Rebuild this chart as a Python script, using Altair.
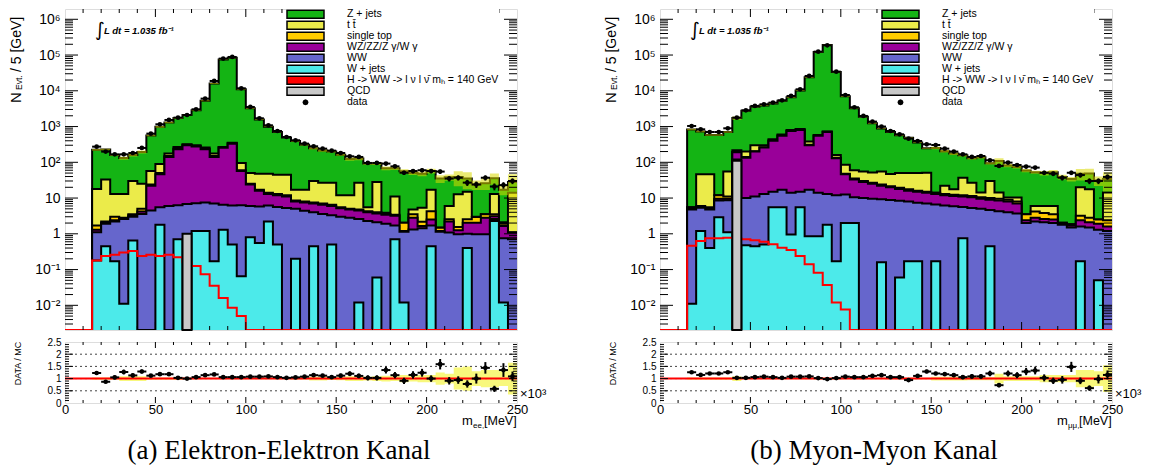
import math
import altair as alt
import pandas as pd

# ------------------------------------------------------------------ data
# 47 bins of 5 GeV (x10^3 MeV): 15-20 ... 245-250; bins below 15 are empty
BIN_LOW = list(range(15, 250, 5))

LEGEND_LABELS = ["Z + jets", "t t\u0304", "single top", "WZ/ZZ/Z \u03b3/W \u03b3", "WW", "W + jets",
                 "H -> WW -> l \u03bd l \u03bd\u0304 m\u2095 = 140 GeV", "QCD", "data"]

# ---- (a) electron-electron channel: cumulative stack tops ----
ee_data = [274, 199, 167, 167, 182, 252, 634, 1157, 1529, 1776, 2108, 3040, 6040, 18840, 79430, 88350, 11750,
           3530, 1703, 1084, 752, 511, 413, 333, 280, 241, 212, 182, 147, 141, 96, 96, 92, 77, 51, 57, 60, 57,
           55, 35, 37, 27, 24, 37, 21, 23, 30]
ee_zjets = [223, 229, 159, 131, 161, 195, 566, 980, 1296, 1724, 2108, 2868, 5298, 16100, 74930, 83350, 11085,
            3269, 1577, 994, 709, 496, 393, 308, 246, 215, 200, 163, 123, 127, 93, 93, 68, 68, 56, 50, 48, 57,
            35, 38, 39, 35, 24, 26, 36, 17, 28]
ee_ttbar = [18, 33, 13, 13, 30, 25, 57, 90, 175, 270, 320, 300, 260, 175, 270, 350, 95,
            50, 48, 48, 45, 45, 17, 17, 30, 27, 27, 12, 12, 27, 5.5, 28, 3.9, 11, 2.05, 4.8, 5.4, 17,
            1.5, 6.0, 12.7, 15, 3.0, 3.5, 13, 2.1, 14]
ee_stop = [1.7, 2.2, 3.0, 2.6, 3.5, 5.0, 24, 50, 150, 245, 310, 285, 240, 150, 262, 340, 60,
           25, 17, 14, 13, 12, 8.5, 8.0, 7.5, 7.0, 6.5, 5.5, 5.0, 4.8, 4.3, 4.0, 3.6, 3.4, 2.05, 3.5, 2.18, 4.3,
           1.48, 2.54, 1.55, 2.54, 2.95, 3.5, 3.5, 1.9, 1.1]
ee_dibos = [1.3, 2.05, 2.4, 2.8, 3.3, 4.2, 22, 46, 140, 230, 300, 275, 230, 140, 255, 330, 57,
            24, 16, 13, 12, 11, 8.0, 7.5, 7.0, 6.5, 6.0, 5.2, 4.8, 4.5, 4.0, 3.7, 3.4, 3.2, 1.2, 2.8, 1.65, 2.5,
            1.2, 2.2, 1.25, 2.05, 2.05, 2.8, 3.1, 1.65, 1.08]
ee_ww = [1.1, 1.9, 2.2, 2.6, 3.0, 3.6, 4.5, 5.5, 6.0, 6.3, 6.8, 7.2, 7.5, 7.0, 6.5, 6.2, 6.3,
         6.0, 5.8, 6.2, 5.6, 5.3, 5.0, 4.4, 4.0, 3.6, 3.3, 3.0, 2.8, 2.6, 2.3, 2.1, 1.9, 1.7, 1.15, 1.33, 1.42, 1.7,
         1.15, 1.08, 0.97, 1.01, 0.97, 0.97, 2.6, 0.75, 0.70]
ee_wjets = [0.18, 0.45, 0.17, 0.011, 0.65, 0, 0, 1.8, 0, 0.7, 0, 1.2, 1.2, 0.17, 1.3, 0.5, 0.065,
            0.8, 0.55, 2.2, 0.5, 0, 0.2, 0, 0.45, 0, 0.5, 0, 0, 0.012, 0, 0.06, 0, 0.7, 0.012, 0, 0, 0.45,
            0, 0, 0, 0.4, 0, 0, 2.3, 0.012, 0]
ee_qcd = [0, 0, 0, 0, 0, 0, 0, 0, 0, 0, 1.0, 0, 0, 0, 0, 0, 0,
          0, 0, 0, 0, 0, 0, 0, 0, 0, 0, 0, 0, 0, 0, 0, 0, 0, 0, 0, 0, 0,
          0, 0, 0, 0, 0, 0, 0, 0, 0]
ee_higgs = [0.18, 0.24, 0.26, 0.30, 0.33, 0.24, 0.26, 0.24, 0.26, 0.22, 0.16, 0.126, 0.074, 0.035, 0.016, 0.0086, 0.005,
            0, 0, 0, 0, 0, 0, 0, 0, 0, 0, 0, 0, 0, 0, 0, 0, 0, 0, 0, 0, 0,
            0, 0, 0, 0, 0, 0, 0, 0, 0]
ee_ratio = [1.23, 0.87, 1.05, 1.27, 1.13, 1.29, 1.12, 1.18, 1.18, 1.03, 1.00, 1.06, 1.14, 1.17, 1.06, 1.06, 1.06,
            1.08, 1.08, 1.09, 1.06, 1.03, 1.05, 1.08, 1.14, 1.12, 1.06, 1.12, 1.20, 1.11, 1.03, 1.03, 1.35, 1.14,
            0.91, 1.15, 1.24, 1.00, 1.59, 0.91, 0.94, 0.78, 1.00, 1.44, 0.58, 1.35, 1.09]
ee_band = [0.05, 0.05, 0.05, 0.1, 0.1, 0.1, 0.05, 0.05, 0.05, 0.05, 0.03, 0.03, 0.03, 0.03, 0.03, 0.03, 0.03,
           0.03, 0.03, 0.03, 0.03, 0.03, 0.04, 0.04, 0.08, 0.08, 0.06, 0.07, 0.1, 0.1, 0.08, 0.1, 0.12, 0.1,
           0.15, 0.12, 0.15, 0.15, 0.25, 0.2, 0.45, 0.5, 0.3, 0.35, 0.35, 0.3, 0.65]

# ---- (b) muon-muon channel ----
mm_data = [1038, 837, 705, 705, 893, 1776, 2850, 3770, 4190, 4670, 5420, 7170, 11010, 26000, 124500, 187400,
           34360, 7640, 3470, 1978, 1374, 1000, 752, 607, 459, 395, 319, 305, 241, 199, 167, 141, 150, 114, 79,
           98, 84, 76, 71, 51, 48, 37, 51, 44, 30, 30, 39]
mm_zjets = [824, 728, 583, 583, 709, 1724, 2767, 3557, 3880, 4406, 5262, 6639, 10190, 23850, 122000, 191200,
            33690, 7074, 3274, 1866, 1238, 877, 709, 573, 488, 356, 247, 252, 204, 175, 158, 129, 138, 94, 108,
            81, 74, 59, 53, 50, 53, 39, 34, 48, 49, 31, 34]
mm_ttbar = [5.5, 46, 46, 12, 55, 217, 200, 300, 300, 440, 600, 800, 850, 380, 580, 730, 160, 85,
            60, 55, 52, 55, 47, 50, 50, 50, 51, 14, 22, 17.6, 37, 27, 14.2, 30, 14.2, 10.3, 10.3, 3.5, 6.0,
            6.0, 6.0, 2.05, 1.85, 20, 17.6, 2.5, 14.2]
mm_stop = [5.5, 6.0, 5.5, 12, 11, 195, 140, 205, 265, 410, 560, 760, 810, 310, 560, 710, 135, 48,
           35, 30, 27, 24, 21.5, 19.5, 17.5, 16, 15, 14, 13, 12.3, 12, 11.5, 10.5, 10, 9.5, 9, 8, 3.5, 4.2,
           3.8, 3.5, 2.05, 1.85, 3.2, 2.8, 2.5, 2.4]
mm_dibos = [5.0, 5.6, 5.0, 9.5, 9.5, 190, 135, 200, 260, 400, 550, 750, 800, 300, 550, 700, 130, 46,
            33, 28, 25, 22, 20, 18, 16, 15, 14, 13, 12, 11.5, 11, 10.5, 9.5, 9, 8.5, 8, 7, 2.4, 2.8,
            2.6, 2.5, 1.9, 1.7, 2.4, 2.1, 1.9, 1.6]
mm_ww = [4.8, 5.4, 4.8, 8.5, 8.7, 120, 10, 11, 13, 15, 17, 14, 15, 17, 14, 13, 12, 12.5,
         10.5, 10, 9.6, 9.2, 8.8, 8.4, 8.0, 7.4, 7.0, 6.6, 6.2, 5.9, 5.6, 5.3, 5.0, 4.6, 4.3, 4.0, 3.7, 2.0, 2.2,
         2.1, 2.0, 1.8, 1.5, 1.6, 1.5, 1.3, 1.2]
mm_wjets = [0.011, 1.2, 0.4, 2.9, 1.1, 0, 0.48, 0.45, 0.5, 5.5, 5.5, 0.95, 5.5, 0.85, 0.85, 1.8, 0.17, 2.0,
            2.0, 0, 0, 0.16, 0, 0.06, 0.17, 0.17, 0, 0.17, 0, 0, 0.75, 0, 0, 0.45, 0, 0, 0, 0, 0,
            0, 0, 0, 0, 0.17, 0, 0.05, 0]
mm_qcd = [0, 0, 0, 0, 0, 110, 0, 0, 0, 0, 0, 0, 0, 0, 0, 0, 0, 0,
          0, 0, 0, 0, 0, 0, 0, 0, 0, 0, 0, 0, 0, 0, 0, 0, 0, 0, 0, 0, 0,
          0, 0, 0, 0, 0, 0, 0, 0]
mm_higgs = [0.46, 0.63, 0.75, 0.75, 0.78, 0.75, 0.70, 0.66, 0.60, 0.51, 0.41, 0.35, 0.24, 0.14, 0.082, 0.037,
            0.012, 0.0077,
            0, 0, 0, 0, 0, 0, 0, 0, 0, 0, 0, 0, 0, 0, 0, 0, 0, 0, 0, 0, 0,
            0, 0, 0, 0, 0, 0, 0, 0]
mm_ratio = [1.26, 1.15, 1.21, 1.21, 1.26, 1.03, 1.03, 1.06, 1.08, 1.06, 1.03, 1.08, 1.08, 1.09, 1.02, 0.98,
            1.02, 1.08, 1.06, 1.06, 1.11, 1.14, 1.06, 1.06, 0.94, 1.11, 1.29, 1.21, 1.18, 1.14, 1.06, 1.09,
            1.09, 1.21, 0.73, 1.21, 1.14, 1.29, 1.33, 1.03, 0.91, 0.95, 1.48, 0.91, 0.61, 0.98, 1.15]
mm_band = [0.05, 0.05, 0.05, 0.05, 0.05, 0.1, 0.03, 0.03, 0.03, 0.03, 0.03, 0.03, 0.03, 0.03, 0.03, 0.03,
           0.03, 0.03, 0.03, 0.03, 0.03, 0.03, 0.03, 0.03, 0.03, 0.03, 0.03, 0.08, 0.08, 0.08, 0.08, 0.07,
           0.07, 0.07, 0.2, 0.1, 0.1, 0.1, 0.1, 0.15, 0.15, 0.15, 0.15, 0.35, 0.35, 0.3, 0.55]

Y_LABEL_VALUES = [0.01, 0.1, 1, 10, 100, 1000, 10000, 100000, 1000000]
Y_LABEL_TEXT = ["10\u207b\u00b2", "10\u207b\u00b9", "1", "10", "10\u00b2", "10\u00b3", "10\u2074",
                "10\u2075", "10\u2076"]
X_LABEL_VALUES = [0, 50, 100, 150, 200, 250]
R_LABEL_VALUES = [0, 0.5, 1, 1.5, 2, 2.5]

# ------------------------------------------------------------------ style
FONT = "Liberation Sans"
STACK_COLORS = ["#14b414", "#ebeb4a", "#ffcc00", "#990099", "#6666cc", "#4ceaea"]
HIGGS_COLOR = "#ff0000"
QCD_COLOR = "#c8c8c8"
LEGEND_COLORS = STACK_COLORS + [HIGGS_COLOR, QCD_COLOR, "black"]
BOX = "M-4.111,-0.9H4.111V0.9H-4.111Z"
DOT = "M0.5,0L0.35,0.35L0,0.5L-0.35,0.35L-0.5,0L-0.35,-0.35L0,-0.5L0.35,-0.35Z"
LEGEND_SHAPES = [BOX] * 8 + [DOT]

W, HM, HR = 452, 321, 61
YMIN, YMAX = 0.00204, 1.94e6
FLOOR = 1e-6
XS = alt.Scale(domain=[0, 250], nice=False, zero=False)
YS = alt.Scale(type="log", domain=[YMIN, YMAX], nice=False, clamp=True)
RS = alt.Scale(domain=[0, 2.5], nice=False, zero=False)
ONE = pd.DataFrame({"k": [0]})

LABEL_EXPR = "[" + ",".join("'%s'" % t for t in Y_LABEL_TEXT) + "][round(log(datum.value)/LN10)+2]"

MAIN_Y_AXIS = alt.Axis(values=Y_LABEL_VALUES, labelExpr=LABEL_EXPR, ticks=False, domain=False, grid=False,
                       labelFontSize=14, labelPadding=5, title=None, labelOverlap=False, labelFont=FONT,
                       labelColor="black")
RATIO_X_AXIS = alt.Axis(values=X_LABEL_VALUES, labelFontSize=13, ticks=False, domain=False, grid=False,
                        title=None, labelPadding=0, labelFont=FONT, labelFlush=False, labelOverlap=False,
                        format="d", labelColor="black")
RATIO_Y_AXIS = alt.Axis(values=R_LABEL_VALUES, labelFontSize=10, ticks=False, domain=False, grid=False,
                        labelPadding=4, labelFont=FONT, labelOverlap=False, labelColor="black", format="~g",
                        title="DATA / MC", titleFontSize=9, titleFontWeight="normal", titleFont=FONT,
                        titleX=-48, titleY=21, titleAngle=270, titleAlign="center", titleBaseline="middle",
                        titleColor="black")


def steps(vals):
    xs = [0, 5, 10] + BIN_LOW + [250]
    vs = [0, 0, 0] + list(vals) + [vals[-1]]
    return pd.DataFrame({"x": xs, "v": [max(v, FLOOR) for v in vs], "base": FLOOR})


def text(t, x, y, size, **kw):
    return alt.Chart(ONE).mark_text(text=t, fontSize=size, **kw).encode(x=alt.value(x), y=alt.value(y))


class Enc:
    """Encoders bound to one panel (same scale + same axis object in every layer)."""

    def __init__(self, yscale, xaxis, yaxis):
        self.yscale, self.xaxis, self.yaxis = yscale, xaxis, yaxis

    def x(self, f):
        return alt.X(f + ":Q", scale=XS, axis=self.xaxis)

    def y(self, f):
        return alt.Y(f + ":Q", scale=self.yscale, axis=self.yaxis)


def tick_rules(E, xvals, yvals, h, xlen, ylen):
    out = []
    d = pd.DataFrame({"v": yvals})
    out.append(alt.Chart(d).mark_rule(color="black", strokeWidth=1).encode(
        y=E.y("v"), x=alt.value(0), x2=alt.value(ylen)))
    out.append(alt.Chart(d).mark_rule(color="black", strokeWidth=1).encode(
        y=E.y("v"), x=alt.value(W), x2=alt.value(W - ylen)))
    d = pd.DataFrame({"v": xvals})
    out.append(alt.Chart(d).mark_rule(color="black", strokeWidth=1).encode(
        x=E.x("v"), y=alt.value(0), y2=alt.value(xlen)))
    out.append(alt.Chart(d).mark_rule(color="black", strokeWidth=1).encode(
        x=E.x("v"), y=alt.value(h), y2=alt.value(h - xlen)))
    return out


def main_panel(tops, higgs, qcd, data, mc, band):
    E = Enc(YS, None, MAIN_Y_AXIS)
    layers = []
    for vals, col in zip(tops, STACK_COLORS):
        d = steps(vals)
        layers.append(alt.Chart(d).mark_area(interpolate="step-after", color=col, opacity=1, clip=True).encode(
            x=E.x("x"), y=E.y("v"), y2="base:Q"))
        layers.append(alt.Chart(d).mark_line(interpolate="step-after", color="black", strokeWidth=2,
                                             clip=True).encode(x=E.x("x"), y=E.y("v")))
    # Higgs signal line
    layers.append(alt.Chart(steps(higgs)).mark_line(interpolate="step-after", color=HIGGS_COLOR, strokeWidth=2,
                                                    clip=True).encode(x=E.x("x"), y=E.y("v")))
    # QCD
    qd = pd.DataFrame({"lo": BIN_LOW, "hi": [b + 5 for b in BIN_LOW], "v": qcd, "base": FLOOR})
    qd = qd[qd.v > 0]
    layers.append(alt.Chart(qd).mark_rect(fill=QCD_COLOR, stroke="black", strokeWidth=2).encode(
        x=E.x("lo"), x2="hi:Q", y=E.y("v"), y2="base:Q"))
    # MC uncertainty band
    lo = [m * (1 - b) for m, b in zip(mc, band)]
    hi = [m * (1 + b) for m, b in zip(mc, band)]
    bd = pd.DataFrame({"x": BIN_LOW + [250], "lo": lo + [lo[-1]], "hi": hi + [hi[-1]]})
    layers.append(alt.Chart(bd).mark_area(interpolate="step-after", color="#d8d800", opacity=0.55).encode(
        x=E.x("x"), y=E.y("lo"), y2="hi:Q"))
    # data
    dd = pd.DataFrame({"c": [b + 2.5 for b in BIN_LOW], "lo": BIN_LOW, "hi": [b + 5 for b in BIN_LOW],
                       "y": data})
    dd["ylo"] = dd.y - dd.y ** 0.5
    dd["yhi"] = dd.y + dd.y ** 0.5
    layers.append(alt.Chart(dd).mark_rule(color="black", strokeWidth=2).encode(x=E.x("lo"), x2="hi:Q", y=E.y("y")))
    layers.append(alt.Chart(dd).mark_rule(color="black", strokeWidth=2).encode(x=E.x("c"), y=E.y("ylo"),
                                                                               y2="yhi:Q"))
    layers.append(alt.Chart(dd).mark_point(filled=True, color="black", size=22, opacity=1).encode(
        x=E.x("c"), y=E.y("y")))
    # ticks (inside, ROOT style)
    major = [10.0 ** k for k in range(-2, 7)]
    minor = [m * 10.0 ** k for k in range(-3, 7) for m in range(2, 10) if YMIN < m * 10.0 ** k < YMAX]
    layers += tick_rules(E, [50, 100, 150, 200], major, HM, 8, 13)
    layers += tick_rules(E, [v for v in range(10, 250, 10) if v % 50], minor, HM, 4, 8)
    # titles / annotations
    layers.append(text("N", -44.5, 94, 15, angle=270, align="left", baseline="alphabetic", font=FONT))
    layers.append(text("Evt.", -43.5, 81, 8.5, angle=270, align="left", baseline="alphabetic", font=FONT))
    layers.append(text("/ 5 [GeV]", -44.5, 63, 14, angle=270, align="left", baseline="alphabetic", font=FONT))
    layers.append(text("\u222b", 30, 21, 19, align="left", baseline="middle", font="DejaVu Sans"))
    layers.append(text("L dt = 1.035 fb\u207b\u00b9", 39, 25, 9.5, align="left", baseline="alphabetic",
                       fontStyle="italic", fontWeight="bold", font=FONT))
    # legend (points placed outside the plot and clipped away; only the legend shows)
    ld = pd.DataFrame({"label": LEGEND_LABELS, "x": -100.0, "y": 1.0})
    leg = alt.Legend(title=None, orient="none", legendX=221, legendY=0, symbolSize=81, symbolOffset=14,
                     labelOffset=36, symbolStrokeWidth=1.5, symbolStrokeColor="black", labelFontSize=10.5,
                     labelFont=FONT, rowPadding=0, clipHeight=10.6, padding=0, labelLimit=400,
                     labelColor="black", fillColor="white")
    layers.append(alt.Chart(ld).mark_point(filled=True, clip=True, opacity=1, size=81, strokeWidth=1.5).encode(
        x=E.x("x"), y=E.y("y"),
        fill=alt.Fill("label:N", scale=alt.Scale(domain=LEGEND_LABELS, range=LEGEND_COLORS), legend=leg),
        shape=alt.Shape("label:N", scale=alt.Scale(domain=LEGEND_LABELS, range=LEGEND_SHAPES), legend=leg),
        stroke=alt.Stroke("label:N", scale=alt.Scale(domain=LEGEND_LABELS, range=["black"] * 9), legend=leg),
    ))
    return alt.layer(*layers).properties(width=W, height=HM)


def ratio_panel(ratio, band, data, sub, caption):
    E = Enc(RS, RATIO_X_AXIS, RATIO_Y_AXIS)
    layers = []
    bd = pd.DataFrame({"x": BIN_LOW + [250], "lo": [1 - b for b in band] + [1 - band[-1]],
                       "hi": [1 + b for b in band] + [1 + band[-1]]})
    layers.append(alt.Chart(bd).mark_area(interpolate="step-after", color="#f7f76e", opacity=0.9).encode(
        x=E.x("x"), y=E.y("lo"), y2="hi:Q"))
    gd = pd.DataFrame({"g": [0.5, 1.0, 1.5, 2.0]})
    layers.append(alt.Chart(gd).mark_rule(color="#444444", strokeWidth=1, strokeDash=[2, 3]).encode(
        y=E.y("g"), x=alt.value(0), x2=alt.value(W)))
    rl = pd.DataFrame({"a": [0], "b": [250], "y": [1.0]})
    layers.append(alt.Chart(rl).mark_rule(color=HIGGS_COLOR, strokeWidth=2).encode(
        x=E.x("a"), x2="b:Q", y=E.y("y")))
    dd = pd.DataFrame({"c": [b + 2.5 for b in BIN_LOW], "lo": BIN_LOW, "hi": [b + 5 for b in BIN_LOW],
                       "r": ratio, "n": data})
    dd["e"] = dd.r / dd.n ** 0.5
    dd["rlo"] = dd.r - dd.e
    dd["rhi"] = dd.r + dd.e
    layers.append(alt.Chart(dd).mark_rule(color="black", strokeWidth=2).encode(
        x=E.x("lo"), x2="hi:Q", y=E.y("r")))
    layers.append(alt.Chart(dd).mark_rule(color="black", strokeWidth=2).encode(
        x=E.x("c"), y=E.y("rlo"), y2="rhi:Q"))
    layers.append(alt.Chart(dd).mark_point(filled=True, color="black", size=22, opacity=1).encode(
        x=E.x("c"), y=E.y("r")))
    rmin = [round(0.1 * i, 1) for i in range(1, 25) if i % 5]
    layers += tick_rules(E, [50, 100, 150, 200], [0.5, 1.0, 1.5, 2.0], HR, 6, 8)
    layers += tick_rules(E, [v for v in range(10, 250, 10) if v % 50], rmin, HR, 3, 4)
    layers.append(text("\u00d710\u00b3", W + 3, 56, 13, align="left", baseline="alphabetic", font=FONT))
    layers.append(text("m", 397, 83, 13, align="left", baseline="alphabetic", font=FONT))
    layers.append(text(sub, 408, 86, 8, align="left", baseline="alphabetic", font=FONT))
    layers.append(text("[MeV]", 419, 83, 12.5, align="left", baseline="alphabetic", font=FONT))
    layers.append(text(caption, 214, 109, 27, align="center", baseline="middle", font="Liberation Serif"))
    return alt.layer(*layers).properties(width=W, height=HR)


main_a = main_panel([ee_zjets, ee_ttbar, ee_stop, ee_dibos, ee_ww, ee_wjets], ee_higgs, ee_qcd, ee_data,
                    ee_zjets, ee_band)
main_b = main_panel([mm_zjets, mm_ttbar, mm_stop, mm_dibos, mm_ww, mm_wjets], mm_higgs, mm_qcd, mm_data,
                    mm_zjets, mm_band)
ratio_a = ratio_panel(ee_ratio, ee_band, ee_data, "ee,", "(a) Elektron-Elektron Kanal")
ratio_b = ratio_panel(mm_ratio, mm_band, mm_data, "\u03bc\u03bc,", "(b) Myon-Myon Kanal")

chart = alt.concat(main_a, main_b, ratio_a, ratio_b, columns=2, spacing={"row": 12, "column": 143},
                   bounds="flush").resolve_scale(
    fill="independent", shape="independent", stroke="independent").properties(padding=0)
chart = chart.configure_view(stroke="black", strokeWidth=2).configure(font=FONT)

chart.save("out.html", embed_options={"renderer": "svg", "actions": False})
